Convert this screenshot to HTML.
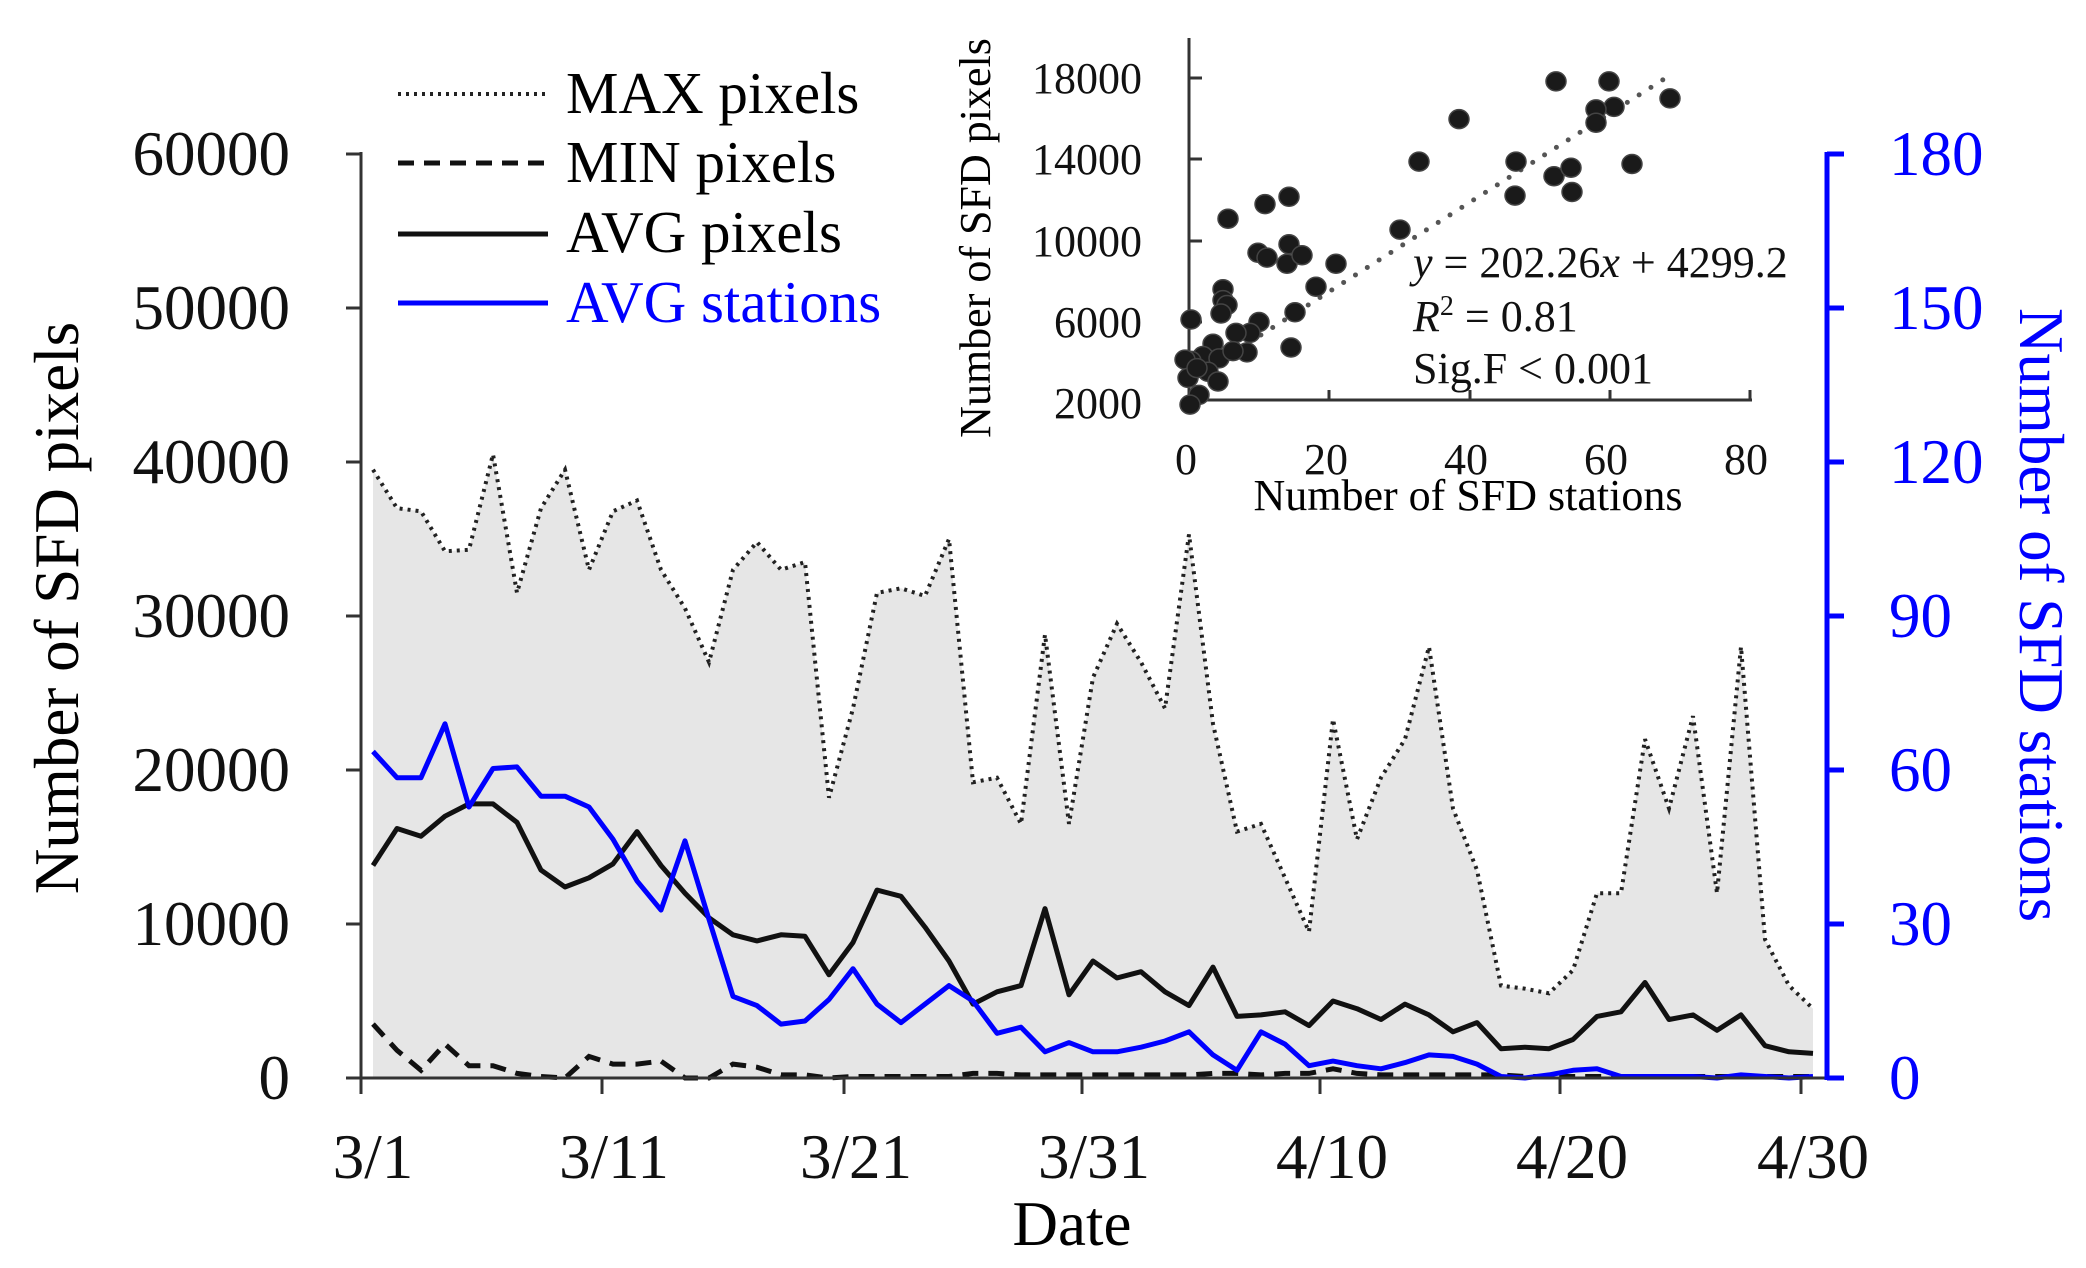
<!DOCTYPE html>
<html><head><meta charset="utf-8"><style>
body{margin:0;background:#fff}
svg{display:block;font-family:"Liberation Serif",serif}
</style></head><body>
<svg id="s" width="2086" height="1268" xmlns="http://www.w3.org/2000/svg">
<g id="main"></g>
<line x1="361" y1="152" x2="361" y2="1082" stroke="#333" stroke-width="3"/>
<line x1="361" y1="1078" x2="1827" y2="1078" stroke="#333" stroke-width="3"/>
<g id="ticks"></g>
<line x1="1827" y1="152" x2="1827" y2="1080" stroke="#0000ff" stroke-width="5"/>
<g font-size="63" text-anchor="end" fill="#111" id="yl"></g>
<g font-size="63" fill="#0000ff" id="yr"></g>
<g font-size="63" text-anchor="middle" fill="#111" id="xl"></g>
<text x="1072" y="1245" font-size="63" text-anchor="middle">Date</text>
<text transform="translate(78,608) rotate(-90)" font-size="63" text-anchor="middle">Number of SFD pixels</text>
<text transform="translate(2020,615) rotate(90)" font-size="63" text-anchor="middle" fill="#0000ff">Number of SFD stations</text>
<!-- legend -->
<line x1="398" y1="94" x2="548" y2="94" stroke="#222" stroke-width="4" stroke-dasharray="3 5"/>
<line x1="398" y1="163" x2="548" y2="163" stroke="#111" stroke-width="5" stroke-dasharray="16 10"/>
<line x1="398" y1="234" x2="548" y2="234" stroke="#111" stroke-width="5"/>
<line x1="398" y1="303" x2="548" y2="303" stroke="#0000ff" stroke-width="5"/>
<g font-size="59">
<text x="566" y="113">MAX pixels</text><text x="566" y="182">MIN pixels</text>
<text x="566" y="252">AVG pixels</text><text x="566" y="322" fill="#0000ff">AVG stations</text>
</g>
<!-- inset -->
<line x1="1189" y1="38" x2="1189" y2="402" stroke="#333" stroke-width="3"/>
<line x1="1189" y1="400" x2="1752" y2="400" stroke="#333" stroke-width="3"/>
<g stroke="#333" stroke-width="3">
<line x1="1189" y1="78" x2="1202" y2="78"/><line x1="1189" y1="159" x2="1202" y2="159"/><line x1="1189" y1="241" x2="1202" y2="241"/><line x1="1189" y1="322" x2="1202" y2="322"/>
<line x1="1329" y1="400" x2="1329" y2="390"/><line x1="1470" y1="400" x2="1470" y2="390"/><line x1="1610" y1="400" x2="1610" y2="390"/><line x1="1750" y1="400" x2="1750" y2="390"/>
</g>
<g font-size="44" text-anchor="end" fill="#111">
<text x="1142" y="93">18000</text><text x="1142" y="174">14000</text><text x="1142" y="256">10000</text><text x="1142" y="337">6000</text><text x="1142" y="418">2000</text>
</g>
<g font-size="44" text-anchor="middle" fill="#111">
<text x="1186" y="474">0</text><text x="1326" y="474">20</text><text x="1466" y="474">40</text><text x="1606" y="474">60</text><text x="1746" y="474">80</text>
</g>
<text x="1468" y="510" font-size="44" text-anchor="middle">Number of SFD stations</text>
<text transform="translate(990,238) rotate(-90)" font-size="44" text-anchor="middle">Number of SFD pixels</text>
<line x1="1190" y1="380" x2="1672" y2="74" stroke="#555" stroke-width="5" stroke-dasharray="0 14" stroke-linecap="round"/>
<g id="dots" fill="#1a1a1a"></g>
<g font-size="44" fill="#111">
<text x="1413" y="277"><tspan font-style="italic">y</tspan> = 202.26<tspan font-style="italic">x</tspan> + 4299.2</text>
<text x="1413" y="331"><tspan font-style="italic">R</tspan><tspan font-size="28" dy="-16">2</tspan><tspan dy="16"> = 0.81</tspan></text>
<text x="1413" y="383">Sig.F &lt; 0.001</text>
</g>
</svg>
<script>
const NS="http://www.w3.org/2000/svg";
function el(p,t,a){const e=document.createElementNS(NS,t);for(const k in a)e.setAttribute(k,a[k]);p.appendChild(e);return e;}
const X=i=>373+24*i, Y=v=>1078-v*15.4;
const mx=[39.5,37,36.8,34.2,34.3,40.5,31.5,37,39.5,33,36.8,37.5,33,30.5,27,33,34.8,33,33.5,18.2,24,31.5,31.8,31.3,35,19.2,19.5,16.5,28.8,16.5,26,29.5,27,24,35.3,23,16,16.5,13,9.5,23.3,15.5,19.5,22,28,17.5,13.5,6,5.8,5.5,7,12,12,22,17.5,23.5,12,28,9,6,4.5];
const av=[13.8,16.2,15.7,17,17.8,17.8,16.6,13.5,12.4,13,13.9,16,13.8,12,10.4,9.3,8.9,9.3,9.2,6.7,8.8,12.2,11.8,9.8,7.6,4.8,5.6,6,11,5.4,7.6,6.5,6.9,5.6,4.7,7.2,4,4.1,4.3,3.4,5,4.5,3.8,4.8,4.1,3,3.6,1.9,2,1.9,2.5,4,4.3,6.2,3.8,4.1,3.1,4.1,2.1,1.7,1.6];
const st=[21.2,19.5,19.5,23,17.6,20.1,20.2,18.3,18.3,17.6,15.5,12.8,10.9,15.4,10.3,5.3,4.7,3.5,3.7,5.1,7.1,4.8,3.6,4.8,6,5,2.9,3.3,1.7,2.3,1.7,1.7,2,2.4,3,1.5,0.5,3,2.2,0.8,1.1,0.8,0.6,1,1.5,1.4,0.9,0.1,0,0.2,0.5,0.6,0.1,0.1,0.1,0.1,0,0.2,0.1,0,0.1];
const mn=[3.5,1.8,0.5,2.2,0.8,0.8,0.3,0.1,0,1.4,0.9,0.9,1.1,0,0,0.9,0.7,0.2,0.2,0,0.1,0.1,0.1,0.1,0.1,0.3,0.3,0.2,0.2,0.2,0.2,0.2,0.2,0.2,0.2,0.3,0.3,0.2,0.3,0.3,0.6,0.3,0.2,0.2,0.2,0.2,0.2,0.2,0.1,0.1,0.1,0.1,0.1,0.1,0.1,0.1,0.1,0.1,0.1,0.1,0.1];
const pts=a=>a.map((v,i)=>X(i).toFixed(1)+","+Y(v).toFixed(1)).join(" ");
const g=document.getElementById("main");
el(g,"polygon",{points:X(0)+",1078 "+pts(mx)+" "+X(60)+",1078",fill:"#e6e6e6"});
el(g,"polyline",{points:pts(mx),fill:"none",stroke:"#222","stroke-width":4,"stroke-dasharray":"3 5"});
el(g,"polyline",{points:pts(mn),fill:"none",stroke:"#111","stroke-width":5,"stroke-dasharray":"16 10"});
el(g,"polyline",{points:pts(av),fill:"none",stroke:"#111","stroke-width":5,"stroke-linejoin":"round"});
el(g,"polyline",{points:pts(st),fill:"none",stroke:"#0000ff","stroke-width":5,"stroke-linejoin":"round"});
const t=document.getElementById("ticks"),yl=document.getElementById("yl"),yr=document.getElementById("yr");
for(let k=0;k<=6;k++){const y=1078-k*154;
 el(t,"line",{x1:346,y1:y,x2:361,y2:y,stroke:"#333","stroke-width":3});
 el(t,"line",{x1:1827,y1:y,x2:1844,y2:y,stroke:"#0000ff","stroke-width":5});
 el(yl,"text",{x:290,y:y+21}).textContent=String(k*10000);
 el(yr,"text",{x:1889,y:y+21}).textContent=String(k*30);}
const xs=[361,602,844,1082,1320,1560,1801],lb=["3/1","3/11","3/21","3/31","4/10","4/20","4/30"];
const xl=document.getElementById("xl");
xs.forEach((x,i)=>{el(t,"line",{x1:x,y1:1078,x2:x,y2:1094,stroke:"#333","stroke-width":3});el(xl,"text",{x:x+12,y:1178}).textContent=lb[i];});
const d=[[1554,67],[1607,67],[1668,81],[1612,88],[1594,90],[1594,101],[1457,98],[1417,133],[1514,133],[1552,145],[1569,138],[1630,135],[1513,161],[1570,158],[1263,168],[1287,162],[1226,180],[1256,208],[1265,212],[1285,217],[1287,201],[1300,210],[1334,217],[1398,189],[1314,236],[1221,238],[1221,247],[1225,251],[1219,258],[1189,263],[1293,257],[1289,286],[1257,265],[1248,274],[1234,274],[1245,290],[1211,283],[1201,293],[1217,295],[1189,297],[1183,296],[1206,306],[1186,311],[1216,314],[1197,325],[1188,333],[1231,289],[1195,303]];
const dg=document.getElementById("dots");
d.forEach(p=>el(dg,"ellipse",{cx:p[0]+2,cy:(p[1]*1.215).toFixed(1),rx:10,ry:9.5,stroke:"#444","stroke-width":1.5}));
</script>
</body></html>
